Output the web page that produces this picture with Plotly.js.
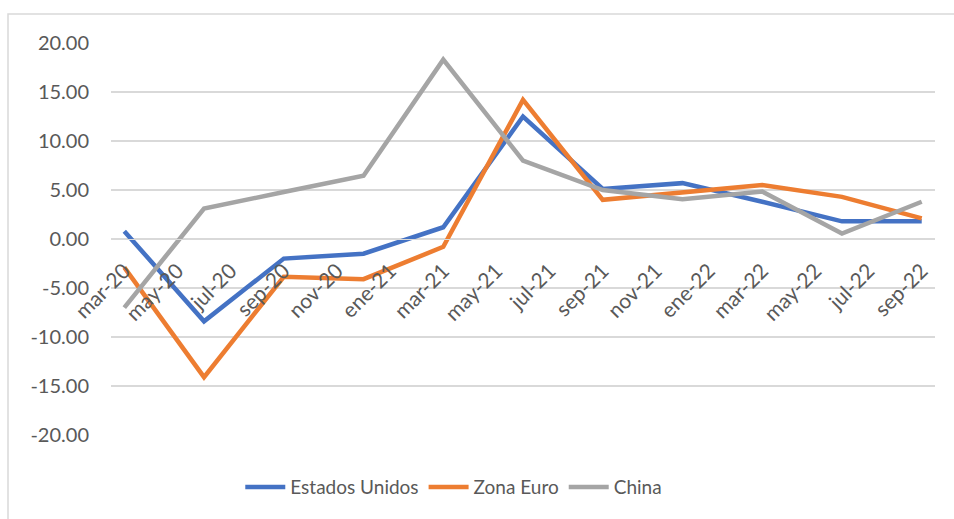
<!DOCTYPE html>
<html>
<head>
<meta charset="utf-8">
<script src="https://cdn.plot.ly/plotly-3.0.1.min.js"></script>
<style>html,body{margin:0;padding:0;background:#fff;}#chart{width:954px;height:519px;}</style>
</head>
<body>
<div id="chart"></div>
<script>
// Month index: 0 = mar-20 ... 30 = sep-22
var months = [0, 3, 6, 9, 12, 15, 18, 21, 24, 27, 30];
var estadosUnidos = [0.8, -8.4, -2.0, -1.5, 1.2, 12.5, 5.1, 5.7, 3.8, 1.8, 1.8];
var zonaEuro = [-2.9, -14.1, -3.85, -4.1, -0.8, 14.2, 4.0, 4.8, 5.5, 4.3, 2.1];
var china = [-7.0, 3.1, 4.8, 6.45, 18.3, 8.0, 5.0, 4.05, 4.85, 0.55, 3.8];
var tickVals = [0, 2, 4, 6, 8, 10, 12, 14, 16, 18, 20, 22, 24, 26, 28, 30];
var tickLabels = ["mar-20","may-20","jul-20","sep-20","nov-20","ene-21","mar-21","may-21","jul-21","sep-21","nov-21","ene-22","mar-22","may-22","jul-22","sep-22"];
var boundaryTicks = [-0.5, 1.5, 3.5, 5.5, 7.5, 9.5, 11.5, 13.5, 15.5, 17.5, 19.5, 21.5, 23.5, 25.5, 27.5, 29.5];
var yTickVals = [-20, -15, -10, -5, 0, 5, 10, 15, 20];
var yTickLabels = ["-20.00", "-15.00", "-10.00", "-5.00", "0.00", "5.00", "10.00", "15.00", "20.00"];

var FONT = "Lato, 'Open Sans', sans-serif";
var TXT = "#595959";
var GRID = "#d9d9d9";

var traces = [
  {x: months, y: estadosUnidos, name: "Estados Unidos", type: "scatter", mode: "lines",
   line: {color: "#4472C4", width: 4.5}},
  {x: months, y: zonaEuro, name: "Zona Euro", type: "scatter", mode: "lines",
   line: {color: "#ED7D31", width: 4.5}},
  {x: months, y: china, name: "China", type: "scatter", mode: "lines",
   line: {color: "#A5A5A5", width: 4.5}}
];

var layout = {
  width: 954, height: 519,
  margin: {l: 111, r: 19, t: 43, b: 84},
  paper_bgcolor: "#fff", plot_bgcolor: "#fff",
  font: {family: FONT, color: TXT, size: 19},
  showlegend: true,
  hovermode: false,
  legend: {orientation: "h", x: 0.416, xanchor: "center", y: -0.133, yanchor: "middle",
           font: {family: FONT, size: 19, color: TXT}, itemwidth: 40, tracegroupgap: 0},
  xaxis: {
    range: [-0.5, 30.5], anchor: "free", position: 0.5,
    tickmode: "array", tickvals: tickVals, ticktext: tickLabels,
    tickangle: -45, ticks: "", showgrid: false, zeroline: false,
    showline: true, linecolor: GRID, linewidth: 1.3, ticklabelstandoff: 10,
    tickfont: {family: FONT, size: 21, color: TXT}
  },
  xaxis2: {
    range: [-0.5, 30.5], overlaying: "x", anchor: "free", position: 0.5,
    tickmode: "array", tickvals: boundaryTicks, ticks: "outside", ticklen: 7,
    tickcolor: GRID, tickwidth: 1.3, showticklabels: false, showgrid: false,
    zeroline: false, showline: false
  },
  yaxis: {
    range: [-20, 20], tickmode: "array", tickvals: yTickVals, ticktext: yTickLabels,
    showgrid: true, gridcolor: GRID, gridwidth: 1.3, zeroline: false,
    showline: false, ticks: "", ticklabelstandoff: 21,
    tickfont: {family: FONT, size: 20, color: TXT}
  },
  shapes: [
    {type: "rect", xref: "paper", yref: "paper", x0: -0.125, x1: 1.2, y0: -0.4, y1: 1.074,
     line: {color: GRID, width: 1.5}, fillcolor: "rgba(0,0,0,0)", layer: "below"}
  ]
};

Plotly.newPlot("chart", traces, layout, {displayModeBar: false, staticPlot: true});
</script>
</body>
</html>
